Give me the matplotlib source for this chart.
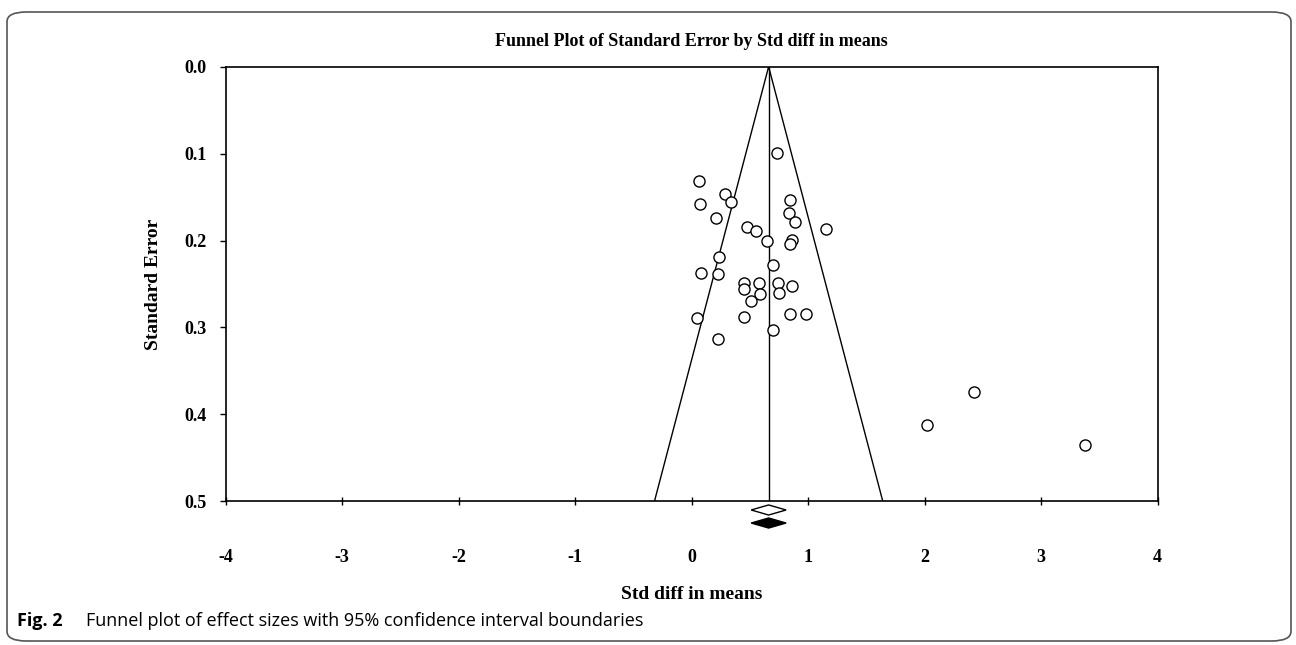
import matplotlib
matplotlib.use('Agg')
import matplotlib.pyplot as plt
from matplotlib.patches import FancyBboxPatch, Polygon
import numpy as np

# study effect sizes (std diff in means) and their standard errors
effect = [0.73, 0.063, 0.286, 0.335, 0.069, 0.844, 0.835, 0.884, 0.211, 0.477,
          0.549, 1.150, 0.644, 0.864, 0.841, 0.237, 0.698, 0.082, 0.228, 0.446,
          0.446, 0.578, 0.743, 0.858, 0.749, 0.584, 0.509, 0.048, 0.445, 0.846,
          0.979, 0.695, 0.228, 2.42, 2.017, 3.373]
std_err = [0.099, 0.132, 0.147, 0.156, 0.158, 0.153, 0.168, 0.179, 0.174, 0.185,
           0.189, 0.187, 0.201, 0.199, 0.204, 0.219, 0.228, 0.237, 0.238, 0.249,
           0.256, 0.249, 0.249, 0.252, 0.260, 0.262, 0.269, 0.289, 0.288, 0.285,
           0.285, 0.303, 0.313, 0.374, 0.412, 0.435]

pooled = 0.66           # summary effect
pooled_ci = [0.51, 0.81]  # CI of the summary diamond
z = 1.96
se_max = 0.5

x_ticks = [-4, -3, -2, -1, 0, 1, 2, 3, 4]
y_ticks = [0.0, 0.1, 0.2, 0.3, 0.4, 0.5]

serif = 'Liberation Serif'

fig = plt.figure(figsize=(12.96, 6.45), dpi=100)
ax = fig.add_axes([0.1742, 0.2228, 0.7191, 0.6738])

# funnel (95% limits) and center line
ax.plot([pooled - z * se_max, pooled, pooled + z * se_max], [se_max, 0, se_max],
        color='black', lw=1)
ax.plot([pooled, pooled], [0, se_max], color='black', lw=1)

ax.plot(effect, std_err, 'o', mfc='white', mec='black', ms=8, mew=1, clip_on=False)

# summary diamonds below the axis (observed = open, imputed = filled)
for yc, fc in [(0.51, 'white'), (0.525, 'black')]:
    h = 0.0058
    pts = [(pooled_ci[0], yc), (pooled, yc - h), (pooled_ci[1], yc), (pooled, yc + h)]
    ax.add_patch(Polygon(pts, closed=True, facecolor=fc, edgecolor='black',
                         lw=1, clip_on=False))

ax.set_xlim(-4, 4)
ax.set_ylim(0.5, 0.0)
ax.set_xticks(x_ticks)
ax.set_yticks(y_ticks)
ax.set_xticklabels([str(t) for t in x_ticks])
ax.set_yticklabels(['%.1f' % t for t in y_ticks])
ax.tick_params(axis='x', direction='inout', length=6, width=1, pad=31)
ax.tick_params(axis='y', direction='out', length=4, width=1, pad=10)
for lab in ax.get_xticklabels() + ax.get_yticklabels():
    lab.set_fontfamily(serif)
    lab.set_fontweight('bold')
    lab.set_fontsize(13)
for s in ax.spines.values():
    s.set_linewidth(1.2)

ax.set_title('Funnel Plot of Standard Error by Std diff in means',
             fontfamily=serif, fontweight='bold', fontsize=13, pad=15)
ax.set_xlabel('Std diff in means', fontfamily=serif, fontweight='bold',
              fontsize=14, labelpad=15)
ax.set_ylabel('Standard Error', fontfamily=serif, fontweight='bold',
              fontsize=14, labelpad=16)

# caption and frame
fig.text(17 / 1296, 1 - 621 / 645, 'Fig. 2', fontfamily='Open Sans',
         fontweight='bold', fontsize=13, va='center', ha='left')
fig.text(86 / 1296, 1 - 621 / 645,
         'Funnel plot of effect sizes with 95% confidence interval boundaries',
         fontfamily='Open Sans', fontsize=13, va='center', ha='left')
frame = FancyBboxPatch((7 / 1296, 4 / 645), 1284 / 1296, 1 - 16 / 645,
                       boxstyle='round,pad=0,rounding_size=0.015',
                       transform=fig.transFigure, facecolor='none',
                       edgecolor='#555555', lw=1.2)
fig.patches.append(frame)

fig.savefig('out.png', dpi=100)
